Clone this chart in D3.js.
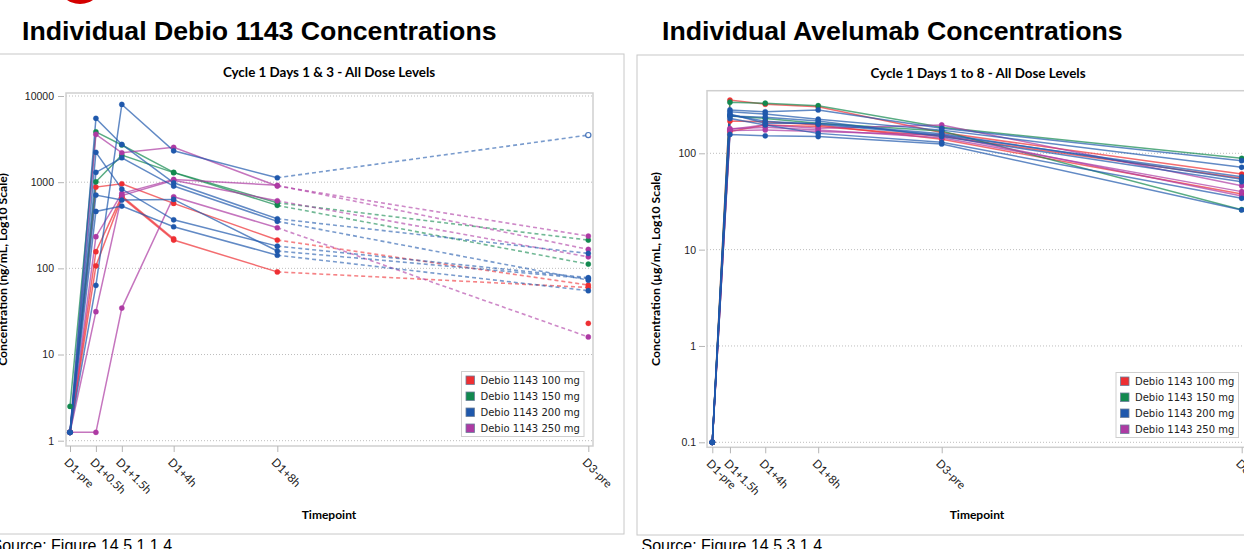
<!DOCTYPE html>
<html><head><meta charset="utf-8">
<script src="https://cdn.jsdelivr.net/npm/d3@7"></script>
<style>body{margin:0;background:#fff;overflow:hidden}svg{display:block}</style>
</head><body>
<svg id="c" width="1244" height="549"></svg>
<script>
// ---------- data ----------
const doseLabels = ["Debio 1143 100 mg", "Debio 1143 150 mg", "Debio 1143 200 mg", "Debio 1143 250 mg"];
const doseColors = ["#EE2F33", "#12894F", "#1F58AC", "#AD3AA3"];

const debioTimepoints = ["D1-pre", "D1+0.5h", "D1+1.5h", "D1+4h", "D1+8h", "D3-pre"];
const debioTimePos = [0, 1, 2, 4, 8, 20];
const debioYTicks = [1, 10, 100, 1000, 10000];
const debio100 = [
  [1.25, 877, 958, 567, 213, 64],
  [1.25, 107, 667, 213, 91, 60],
  [1.25, 156, 690, 220, null, 23]
];
const debio150 = [
  [2.5, 3840, 2700, 1300, 577, 213],
  [1.25, 1010, 2060, 1290, 538, 112]
];
const debio200 = [
  [1.25, 63.5, 7980, 2312, 1125, 3520],
  [1.25, 5500, 2740, 984, 376, 149],
  [1.25, 2220, 832, 366, 181, 78],
  [1.25, 1300, 1920, 902, 351, 73],
  [1.25, 708, 620, 631, 159, 76],
  [1.25, 458, 528, 304, 142, 55]
];
const debio250 = [
  [1.25, 3590, 2190, 2535, 901, 237],
  [1.25, 233, 741, 1077, 920, 166],
  [1.25, 31.4, 700, 1050, 608, 136],
  [1.25, 1.25, 34.6, 677, 296, 16]
];
// [dose group, subject, timepoint] drawn as open markers
const debioOpenPoints = [[2, 0, 5]];

const aveTimepoints = ["D1-pre", "D1+1.5h", "D1+4h", "D1+8h", "D3-pre", "D8-pre"];
const aveTimePos = [0, 1, 3, 6, 13, 30];
const aveYTicks = [0.1, 1, 10, 100];
const ave100 = [
  [0.1, 357, 323, 305, 164, 61],
  [0.1, 216, 213, 197, 140, 37.8],
  [0.1, 168, 197, 190, 150, 55]
];
const ave150 = [
  [0.1, 339, 331, 312, 186, 88.7],
  [0.1, 244, 230, 205, 170, 26]
];
const ave200 = [
  [0.1, 282, 270, 282, 182, 83.8],
  [0.1, 270, 256, 226, 174, 71.6],
  [0.1, 256, 205, 205, 160, 53.7],
  [0.1, 244, 237, 216, 149, 50.7],
  [0.1, 157, 152, 149, 125, 25.8],
  [0.1, 230, 197, 161, 130, 34.1],
  [0.1, 250, 215, 200, 155, 57]
];
const ave250 = [
  [0.1, 177, 197, 182, 197, 46],
  [0.1, 172, 175, 168, 155, 36],
  [0.1, 180, 186, 175, 145, 40]
];

// ---------- drawing ----------
const svg = d3.select("#c");
const F = "Lato, 'Open Sans', sans-serif";
const A = "'Liberation Sans', Arial, sans-serif";

svg.append("circle").attr("cx", 80).attr("cy", -19).attr("r", 23).attr("fill", "#d40000");
svg.append("text").attr("x", 22).attr("y", 40).attr("font-family", A).attr("font-weight", "bold")
  .attr("font-size", 26.7).attr("fill", "#000").text("Individual Debio 1143 Concentrations");
svg.append("text").attr("x", 662).attr("y", 40).attr("font-family", A).attr("font-weight", "bold")
  .attr("font-size", 26.7).attr("fill", "#000").text("Individual Avelumab Concentrations");

// panel frames
svg.append("rect").attr("x", -5).attr("y", 54).attr("width", 629).attr("height", 480)
  .attr("fill", "none").attr("stroke", "#c8c8c8");
svg.append("rect").attr("x", 637).attr("y", 55).attr("width", 620).attr("height", 480)
  .attr("fill", "none").attr("stroke", "#c8c8c8");

svg.append("text").attr("x", -8.5).attr("y", 551).attr("font-family", A).attr("font-size", 16)
  .attr("fill", "#000").text("Source: Figure 14.5.1.1.4");
svg.append("text").attr("x", 641.5).attr("y", 551).attr("font-family", A).attr("font-size", 16)
  .attr("fill", "#000").text("Source: Figure 14.5.3.1.4");

function panel(o) {
  const g = svg.append("g");
  const x = d3.scaleLinear().domain(o.xDomain).range(o.xRange);
  const y = d3.scaleLog().domain(o.yDomain).range(o.yRange);
  const [bx0, by0, bx1, by1] = o.box;

  g.append("text").attr("x", o.titleX).attr("y", o.titleY).attr("text-anchor", "middle")
    .attr("font-family", F).attr("font-weight", "bold").attr("font-size", 13.4).attr("fill", "#000").text(o.title);

  g.selectAll("line.grid").data(o.yTicks).join("line").attr("class", "grid")
    .attr("x1", bx0).attr("x2", bx1).attr("y1", d => y(d)).attr("y2", d => y(d))
    .attr("stroke", "#bdbdbd").attr("stroke-dasharray", "1,2");

  g.append("rect").attr("x", bx0).attr("y", by0).attr("width", bx1 - bx0).attr("height", by1 - by0)
    .attr("fill", "none").attr("stroke", "#cfcfcf").attr("stroke-width", 1.5);

  const ya = g.append("g").attr("transform", `translate(${bx0 - 2},0)`)
    .call(d3.axisLeft(y).tickValues(o.yTicks).tickFormat(o.yFmt).tickSize(6).tickPadding(o.yPad));
  ya.select(".domain").remove();
  ya.selectAll("line").attr("stroke", "#b5b5b5");
  ya.selectAll("text").attr("font-family", A).attr("font-size", 10.5).attr("fill", "#222");

  const xa = g.append("g").attr("transform", `translate(0,${by1})`)
    .call(d3.axisBottom(x).tickValues(o.xPos).tickSize(6).tickFormat((d, i) => o.xLabels[i]));
  xa.select(".domain").remove();
  xa.selectAll("line").attr("stroke", "#b5b5b5");
  xa.selectAll("text").attr("y", 0).attr("dy", null).attr("text-anchor", "start")
    .attr("transform", "translate(-7,17) rotate(45)")
    .attr("font-family", F).attr("font-size", 11.5).attr("fill", "#222");

  g.append("text").attr("x", o.xTitleX).attr("y", 518.5).attr("text-anchor", "middle")
    .attr("font-family", F).attr("font-weight", "bold").attr("font-size", 12).attr("fill", "#000").text("Timepoint");
  g.append("text").attr("transform", `translate(${o.yTitleX},${(by0 + by1) / 2}) rotate(-90)`)
    .attr("text-anchor", "middle").attr("font-family", F).attr("font-weight", "bold")
    .attr("font-size", 12.2).attr("fill", "#000").text(o.yTitle);

  const line = d3.line().defined(d => d.v != null).x(d => x(d.t)).y(d => y(d.v));
  const plot = g.append("g");
  o.order.forEach(gi => {
    const col = doseColors[gi];
    o.groups[gi].forEach((s, si) => {
      const pts = s.map((v, j) => ({ t: o.xPos[j], v }));
      plot.append("path").attr("d", line(pts.slice(0, o.solidEnd + 1)))
        .attr("fill", "none").attr("stroke", col).attr("stroke-opacity", 0.7).attr("stroke-width", 1.5);
      if (o.solidEnd < pts.length - 1) {
        plot.append("path").attr("d", line(pts.slice(o.solidEnd)))
          .attr("fill", "none").attr("stroke", col).attr("stroke-opacity", 0.6).attr("stroke-width", 1.6)
          .attr("stroke-dasharray", "4,3");
      }
    });
  });
  o.order.forEach(gi => {
    const col = doseColors[gi];
    o.groups[gi].forEach((s, si) => {
      s.forEach((v, j) => {
        if (v == null) return;
        const open = o.open.some(p => p[0] === gi && p[1] === si && p[2] === j);
        plot.append("circle").attr("cx", x(o.xPos[j])).attr("cy", y(v)).attr("r", 2.6)
          .attr("fill", open ? "#fff" : col).attr("stroke", col).attr("stroke-width", open ? 1.2 : 0.6)
          .attr("stroke-opacity", open ? 0.8 : 0.5);
      });
    });
  });

  // legend
  const lg = g.append("g").attr("transform", `translate(${o.legend[0]},${o.legend[1]})`);
  lg.append("rect").attr("width", 122.5).attr("height", 65).attr("fill", "#fff").attr("stroke", "#cfcfcf");
  doseLabels.forEach((lab, i) => {
    lg.append("rect").attr("x", 4.5).attr("y", 4.5 + i * 16).attr("width", 8.5).attr("height", 8.5)
      .attr("fill", doseColors[i]).attr("stroke", "#6d7f9a").attr("stroke-width", 0.8);
    lg.append("text").attr("x", 19).attr("y", 12.5 + i * 16).attr("font-family", "'DejaVu Sans', sans-serif")
      .attr("font-size", 10).attr("fill", "#222").text(lab);
  });
}

panel({
  title: "Cycle 1 Days 1 & 3 - All Dose Levels", titleX: 329, titleY: 77,
  box: [66, 93, 593, 446],
  xDomain: [0, 20], xRange: [70, 588.3], xPos: debioTimePos, xLabels: debioTimepoints,
  yDomain: [1, 10000], yRange: [440.7, 96], yTicks: debioYTicks, yFmt: d3.format("d"), yPad: 4,
  groups: [debio100, debio150, debio200, debio250], order: [0, 1, 3, 2], open: debioOpenPoints,
  solidEnd: 4, xTitleX: 329, yTitleX: 7, yTitle: "Concentration (ng/mL, Log10 Scale)",
  legend: [461.5, 371.5]
});

panel({
  title: "Cycle 1 Days 1 to 8 - All Dose Levels", titleX: 978, titleY: 78,
  box: [707, 90.7, 1250, 447.3],
  xDomain: [0, 30], xRange: [712.3, 1241.7], xPos: aveTimePos, xLabels: aveTimepoints,
  yDomain: [0.1, 100], yRange: [442.3, 153.3], yTicks: aveYTicks, yFmt: d => String(d), yPad: 3,
  groups: [ave100, ave150, ave200, ave250], order: [0, 1, 3, 2], open: [],
  solidEnd: 5, xTitleX: 977, yTitleX: 660, yTitle: "Concentration (µg/mL, Log10 Scale)",
  legend: [1116, 372.5]
});
</script>
</body></html>
